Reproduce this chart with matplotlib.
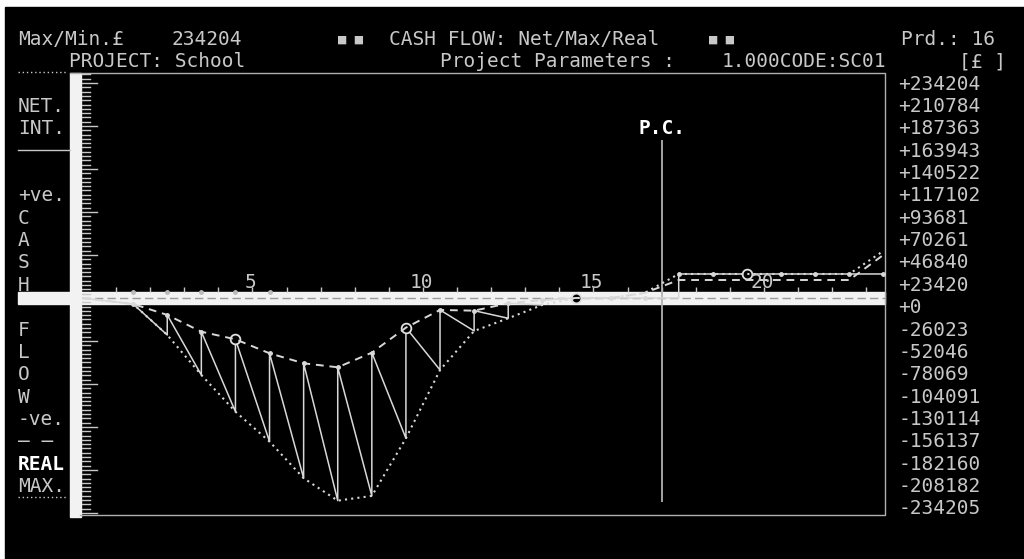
import matplotlib
matplotlib.use("Agg")
import matplotlib.pyplot as plt
from matplotlib.patches import Rectangle

# ---- data ----
periods = [0, 1.5, 2.5, 3.5, 4.5, 5.5, 6.5, 7.5, 8.5, 9.5, 10.5, 11.5,
           12.5, 13.5, 14.5, 15.5, 16.5, 17.5, 18.5, 19.5, 20.5, 21.5, 22.5, 23.5]
# net cash flow: value after payment (top) and before payment (low) each period
net_top = [0, -6500, -18300, -36400, -44600, -59700, -70500, -74800, -59000,
           -32000, -12900, -13700, -5700, -2200, 0, 0, 0, 25900, 25900, 25900,
           25900, 25900, 25900, 25900]
net_low = [0, -6500, -39900, -83100, -122700, -155000, -194500, -218700,
           -213600, -151400, -77700, -35600, -21900, -7500, 0, 0, 0, 0, 25900,
           25900, 25900, 25900, 25900, 25900]
real_flow = [0, -6500, -18300, -36400, -44600, -59700, -70500, -74800, -59000,
             -32000, -12900, -13700, -5700, -2200, 0, 0, 5400, 19400, 19400,
             19400, 19400, 19400, 19400, 46400]
max_flow = [0, -6500, -39900, -83100, -122700, -155000, -194500, -218700,
            -213600, -151400, -77700, -35600, -21900, -7500, 0, 0, 5400, 25900,
            25900, 25900, 25900, 25900, 25900, 50700]
interest_x = [1.5, 2.5, 3.5, 4.5, 5.5]
interest = [6800, 6800, 6800, 6800, 6800]

y_labels = ["+234204", "+210784", "+187363", "+163943", "+140522", "+117102",
            "+93681", "+70261", "+46840", "+23420", "+0", "-26023", "-52046",
            "-78069", "-104091", "-130114", "-156137", "-182160", "-208182",
            "-234205"]
x_labels = [5, 10, 15, 20]
side_labels = ["NET.", "INT.", "", "", "+ve.", "C", "A", "S", "H", "", "F",
               "L", "O", "W", "-ve.", "— —", "REAL", "MAX."]
pc_period = 17
y_max, y_min = 242800, -234205

W, H = 1024, 559
FG = "#c8c8c8"
WHITE = "#f2f2f2"
FONT = "DejaVu Sans Mono"
FS = 14


def col(c):
    return 5 + 12.8 * c


def row(r):
    return 39.5 + 22.35 * r


fig = plt.figure(figsize=(W / 100, H / 100), dpi=100, facecolor="white")
bg = fig.add_axes([0, 0, 1, 1])
bg.set_xlim(0, W)
bg.set_ylim(H, 0)
bg.axis("off")
bg.add_patch(Rectangle((5, 7), W - 5, H - 7, color="black"))


def txt(c, r, s, **kw):
    opts = dict(color=FG, family=FONT, fontsize=FS, ha="left", va="center")
    opts.update(kw)
    bg.text(col(c), row(r), s, **opts)


# header
txt(1, 0, "Max/Min.£")
txt(13, 0, y_labels[0].lstrip("+"))
txt(26, 0, "■ ■", fontsize=10)
txt(30, 0, "CASH FLOW: Net/Max/Real")
txt(55, 0, "■ ■", fontsize=10)
txt(70, 0, "Prd.: 16")
txt(5, 1, "PROJECT: School")
txt(34, 1, "Project Parameters :")
txt(56, 1, "1.000CODE:SC01")
txt(74.5, 1, "[£ ]")

# right value column
for i, lab in enumerate(y_labels):
    txt(69.8, 2 + i, lab)

# left legend column
for i, lab in enumerate(side_labels):
    if lab == "REAL":
        txt(1, 3 + i, lab, color="white", fontweight="bold")
    elif lab:
        txt(1, 3 + i, lab)
bg.plot([18, 70], [150, 150], color=FG, lw=1)
bg.plot([18, 66], [72, 72], color=FG, lw=1, ls=(0, (1, 2)))
bg.plot([18, 66], [497, 497], color=FG, lw=1, ls=(0, (1, 2)))

# frame, axes bars
bg.plot([70, 885, 885, 80], [73, 73, 515, 515], color="#b0b0b0", lw=1)
bg.add_patch(Rectangle((70, 73), 11, 444, color=WHITE))
bg.add_patch(Rectangle((18, 292), 867, 12, color=WHITE))
bg.plot([82, 885], [298, 298], color="#9a9a9a", lw=1, ls=(0, (6, 3)))

# ---- chart axes ----
ax = fig.add_axes([82 / W, (H - 515) / H, (885 - 82) / W, (515 - 73) / H])
ax.set_xlim(0, 23.55)
ax.set_ylim(y_min, y_max)
ax.axis("off")
ax.patch.set_alpha(0)

# left ruler ticks
step = 4640
ytr = ax.get_yaxis_transform()
k = 1
while k * step < y_max:
    for v in (k * step, -k * step):
        if v > y_min:
            ln = 0.019 if k % 10 == 0 else 0.01
            ax.plot([0.0, ln], [v, v], color=FG, lw=1, transform=ytr)
    k += 1

# period ticks and labels
ax.vlines(range(1, 24), 6000, 12000, color=FG, lw=1)
for xv in x_labels:
    ax.text(xv - 0.05, 16500, str(xv), color=FG, family=FONT, fontsize=FS,
            ha="center", va="center")

# P.C. marker
ax.vlines(pc_period, -220100, 170500, color="#b0b0b0", lw=1.3)
ax.text(pc_period, 183400, "P.C.", color="white", family=FONT, fontsize=FS,
        fontweight="bold", ha="center", va="center")

# sawtooth net cash flow
sx, sy = [periods[0]], [net_top[0]]
for p, lo, hi in zip(periods[1:], net_low[1:], net_top[1:]):
    sx += [p, p]
    sy += [lo, hi]
ax.plot(sx, sy, color="#d8d8d8", lw=1.1)
ax.plot(periods[1:], net_top[1:], ls="none", marker="o", ms=2.5,
        color="#d8d8d8")
circ = [i for i, p in enumerate(periods) if p % 5 == 4.5]
ax.plot([periods[i] for i in circ], [net_top[i] for i in circ], ls="none",
        marker="o", ms=7, mfc="black", mec="#e0e0e0", mew=1.3)

ax.plot(periods, real_flow, color="#d8d8d8", lw=1.4, ls=(0, (4, 3)))
ax.plot(periods, max_flow, color="#d8d8d8", lw=1.5, ls=(0, (1, 2)))
ax.plot(interest_x, interest, ls="none", marker="o", ms=2.5, color="#bbbbbb")

fig.savefig("out.png", dpi=100, facecolor=fig.get_facecolor())
